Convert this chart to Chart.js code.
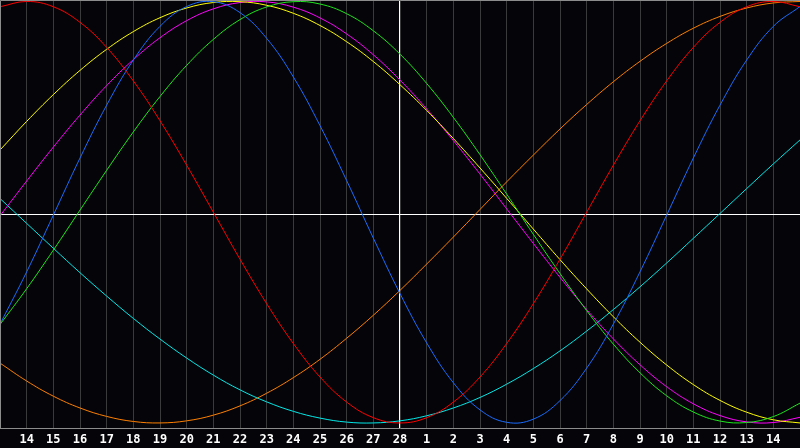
<!DOCTYPE html>
<html>
<head>
<meta charset="utf-8">
<script src="https://cdn.jsdelivr.net/npm/chart.js@4.4.1/dist/chart.umd.min.js"></script>
<style>
  html, body { margin: 0; padding: 0; background: #050408; }
  canvas { display: block; }
</style>
</head>
<body>
<canvas id="bioChart" width="800" height="448"></canvas>
<script>
// day labels along the bottom (first and last are not shown)
const dayLabels = ['13', '14', '15', '16', '17', '18', '19', '20', '21', '22', '23', '24', '25', '26', '27', '28',
    '1', '2', '3', '4', '5', '6', '7', '8', '9', '10', '11', '12', '13', '14', '15'];

// values, one per day, -100..100
const redValues     = [97.5, 100, 97.5, 90.1, 78.2, 62.3, 43.4, 22.3, 0, -22.3, -43.4, -62.3, -78.2, -90.1, -97.5, -100, -97.5, -90.1, -78.2, -62.3, -43.4, -22.3, 0, 22.3, 43.4, 62.3, 78.2, 90.1, 97.5, 100, 97.5];
const blueValues    = [-53.1, -28.3, -1.4, 25.7, 50.8, 72.2, 88.2, 97.6, 99.9, 94.7, 82.5, 64.2, 41.1, 15.0, -12.3, -38.6, -62.0, -80.9, -93.8, -99.7, -98.2, -89.4, -74.0, -53.1, -28.3, -1.4, 25.7, 50.8, 72.2, 88.2, 97.6];
const greenValues   = [-53.3, -36.3, -18.0, 1.0, 19.9, 38.1, 54.9, 69.7, 82.0, 91.4, 97.4, 99.9, 98.8, 94.2, 86.1, 75.0, 61.1, 45.0, 27.3, 8.6, -10.5, -29.1, -46.7, -62.6, -76.2, -87.1, -94.8, -99.1, -99.8, -97.0, -90.6];
const yellowValues  = [29.5, 43.1, 55.8, 67.3, 77.3, 85.7, 92.3, 96.9, 99.5, 99.9, 98.2, 94.4, 88.6, 80.9, 71.5, 60.5, 48.3, 35.0, 21.0, 6.6, -8.0, -22.5, -36.4, -49.6, -61.7, -72.5, -81.8, -89.3, -94.9, -98.5, -100];
const magentaValues = [-1.7, 14.8, 30.9, 46.1, 60.1, 72.4, 82.8, 90.9, 96.5, 99.5, 99.8, 97.3, 92.2, 84.6, 74.7, 62.7, 49.0, 34.0, 18.1, 1.6, -14.8, -30.9, -46.2, -60.1, -72.4, -82.8, -90.9, -96.5, -99.5, -99.8, -97.3];
const cyanValues    = [6.5, -5.3, -17.1, -28.7, -39.8, -50.4, -60.2, -69.2, -77.3, -84.3, -90.0, -94.5, -97.7, -99.6, -100, -99.0, -96.6, -92.9, -87.9, -81.6, -74.2, -65.8, -56.4, -46.2, -35.4, -24.1, -12.4, -0.6, 11.2, 22.9, 34.3];
const orangeValues  = [-71.6, -80.1, -87.3, -92.9, -96.9, -99.3, -100, -99.0, -96.3, -91.9, -85.9, -78.5, -69.8, -59.8, -48.9, -37.1, -24.6, -11.8, 1.3, 14.4, 27.1, 39.5, 51.1, 61.9, 71.6, 80.1, 87.3, 92.9, 96.9, 99.3, 100];

const seriesColors = ['#ff0000', '#1a6cff', '#1ee61e', '#ffff00', '#ff00ff', '#00e8e8', '#ff8000'];

function toPoints(values) {
    return values.map((v, i) => ({ x: i, y: v }));
}

// background, center cross and frame
const framePlugin = {
    id: 'frame',
    beforeDraw(chart) {
        const ctx = chart.ctx;
        ctx.save();
        ctx.fillStyle = '#050408';
        ctx.fillRect(0, 0, chart.width, chart.height);
        ctx.restore();
    },
    beforeDatasetsDraw(chart) {
        const { ctx, chartArea } = chart;
        const xMid = chart.scales.x.getPixelForValue(15);
        const yMid = (chartArea.top + chartArea.bottom) / 2;
        ctx.save();
        ctx.strokeStyle = '#ffffff';
        ctx.lineWidth = 1;
        ctx.beginPath();
        ctx.moveTo(Math.round(xMid) - 0.5, chartArea.top);
        ctx.lineTo(Math.round(xMid) - 0.5, chartArea.bottom);
        ctx.moveTo(chartArea.left, Math.round(yMid) + 0.5);
        ctx.lineTo(chartArea.right, Math.round(yMid) + 0.5);
        ctx.stroke();
        ctx.restore();
    },
    afterDraw(chart) {
        const { ctx, chartArea } = chart;
        ctx.save();
        ctx.strokeStyle = '#8c8c8c';
        ctx.lineWidth = 1;
        ctx.beginPath();
        ctx.moveTo(chartArea.left + 0.5, chartArea.bottom);
        ctx.lineTo(chartArea.left + 0.5, chartArea.top + 0.5);
        ctx.lineTo(chartArea.right, chartArea.top + 0.5);
        ctx.stroke();
        ctx.restore();
    }
};

const seriesList = [redValues, blueValues, greenValues, yellowValues, magentaValues, cyanValues, orangeValues];

new Chart(document.getElementById('bioChart'), {
    type: 'line',
    data: {
        datasets: seriesList.map((values, k) => ({
            data: toPoints(values),
            borderColor: seriesColors[k],
            borderWidth: 1,
            pointRadius: 0,
            pointHoverRadius: 0,
            pointHitRadius: 0,
            tension: 0.4,
            fill: false
        }))
    },
    options: {
        responsive: false,
        animation: false,
        devicePixelRatio: 1,
        layout: { padding: 0, autoPadding: false },
        plugins: {
            legend: { display: false },
            tooltip: { enabled: false }
        },
        scales: {
            x: {
                type: 'linear',
                min: 0,
                max: 30,
                afterFit(scale) {
                    scale.height = 20;
                    scale.paddingLeft = 0;
                    scale.paddingRight = 0;
                },
                grid: { color: '#3a3a3a', lineWidth: 1, drawTicks: false },
                border: { color: '#8c8c8c', width: 1 },
                ticks: {
                    stepSize: 1,
                    autoSkip: false,
                    maxRotation: 0,
                    padding: 5,
                    color: '#ffffff',
                    font: { family: 'DejaVu Sans Mono', size: 12, weight: 'bold' },
                    callback: (value) => (value === 0 || value === 30) ? '' : dayLabels[value]
                }
            },
            y: {
                display: false,
                min: -102.4,
                max: 100.7
            }
        }
    },
    plugins: [framePlugin]
});
</script>
</body>
</html>
